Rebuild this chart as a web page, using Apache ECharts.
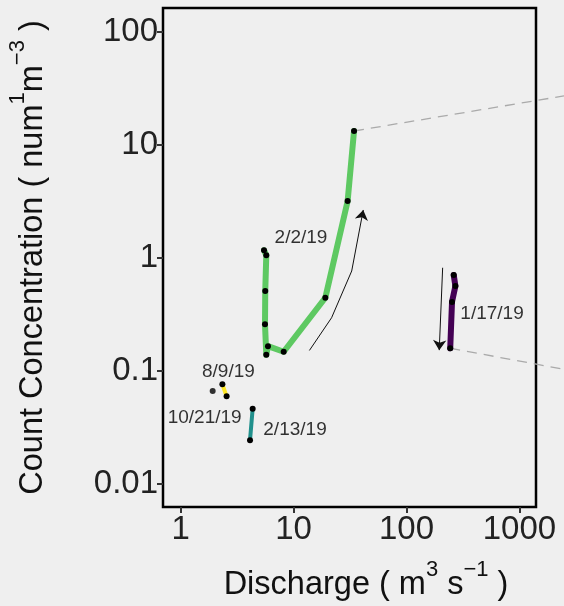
<!DOCTYPE html>
<html>
<head>
<meta charset="utf-8">
<script src="https://cdn.jsdelivr.net/npm/echarts@6/dist/echarts.min.js"></script>
<style>
  html, body { margin: 0; padding: 0; background: #efefef; }
  #main { width: 564px; height: 606px; }
</style>
</head>
<body>
<div id="main"></div>
<script>
// discharge (m3/s), concentration (num/m3)
const event0202 = [[5.47, 1.17], [5.73, 1.06], [5.61, 0.51], [5.58, 0.259], [5.73, 0.139],
                   [5.93, 0.166], [8.17, 0.148], [19.1, 0.445], [30.1, 3.19], [34.3, 13.3]]
const event0117 = [[262, 0.707], [271, 0.565], [253, 0.408], [244, 0.159]]
const event0213 = [[4.34, 0.0464], [4.11, 0.0244]]
const event0809 = [[2.34, 0.0762], [2.55, 0.0597]]
const event1021 = [[1.92, 0.0665]]
// dashed leaders running off to the right
const leaderUp = [[34.3, 13.3], [2483, 27.2]]
const leaderDown = [[244, 0.159], [2483, 0.1035]]
// hysteresis direction arrows
const arrowUp = [[13.8, 0.152], [21.7, 0.296], [32.7, 0.767], [41.4, 2.66]]
const arrowDown = [[209, 0.82], [195, 0.153]]
const xTicks = [1, 10, 100, 1000]
const yTicks = [0.01, 0.1, 1, 10, 100]

const FONT = '"Liberation Sans", Arial, Helvetica, sans-serif'
const X_MIN = 0.697, X_MAX = 1403, Y_MIN = 0.00626, Y_MAX = 163
// the leaders run past the frame, so they get a wider twin grid on the same scale
const X_MAX_WIDE = Math.pow(10, Math.log10(X_MAX) + 28 * (Math.log10(X_MAX) - Math.log10(X_MIN)) / 373)

function eventLine (data, color, width) {
  return {
    type: 'line', data: data, symbol: 'circle', symbolSize: 6, clip: false,
    itemStyle: { color: '#000' },
    lineStyle: { color: color, width: width, cap: 'round', join: 'round' },
    z: 3
  }
}
function leader (data) {
  return {
    type: 'line', data: data, symbol: 'none', clip: false, xAxisIndex: 1, yAxisIndex: 1,
    lineStyle: { color: '#aaaaaa', width: 1.3, type: [10, 7] }, z: 2, silent: true
  }
}
function arrow (pts) {
  const segs = []
  for (let i = 0; i < pts.length - 1; i++) {
    const seg = { coords: [pts[i], pts[i + 1]] }
    if (i === pts.length - 2) seg.symbol = ['none', 'arrow']
    segs.push(seg)
  }
  return {
    type: 'lines', coordinateSystem: 'cartesian2d', data: segs, symbol: 'none',
    symbolSize: 10, lineStyle: { color: '#111', width: 1, opacity: 1 }, z: 4, silent: true
  }
}
function tag (pt, text, offset) {
  return {
    type: 'scatter', data: [pt], symbolSize: 1, itemStyle: { color: 'rgba(0,0,0,0)' }, silent: true,
    label: { show: true, position: 'inside', formatter: text, offset: offset,
             color: '#000', fontSize: 19, fontFamily: FONT },
    z: 5
  }
}

const supStyle = { fontSize: 22, fontFamily: FONT, color: '#111', padding: [0, 0, 30, 0] }
const hiddenAxis = { show: false, splitLine: { show: false } }

const chart = echarts.init(document.getElementById('main'))
chart.setOption({
  animation: false,
  backgroundColor: '#efefef',
  grid: [
    { left: 163, right: 28, top: 8, bottom: 99, outerBoundsMode: 'none', containLabel: false,
      show: true, borderColor: '#000', borderWidth: 2.5, backgroundColor: 'transparent' },
    { left: 163, right: 0, top: 8, bottom: 99, outerBoundsMode: 'none', containLabel: false }
  ],
  xAxis: [{
    type: 'log', logBase: 10, min: X_MIN, max: X_MAX,
    name: 'Discharge ( m{sup|3} s{sup|\u22121} )', nameLocation: 'middle', nameGap: 52,
    nameTextStyle: { color: '#111', fontSize: 32.5, fontFamily: FONT, padding: [0, 0, 0, 33], rich: { sup: supStyle } },
    axisLine: { show: false },
    splitLine: { show: false },
    axisTick: { show: true, length: 6, customValues: xTicks, lineStyle: { color: '#333', width: 2 } },
    axisLabel: { customValues: xTicks, formatter: v => String(v), color: '#222', fontSize: 33, fontFamily: FONT, margin: 6 }
  }, Object.assign({ type: 'log', logBase: 10, min: X_MIN, max: X_MAX_WIDE, gridIndex: 1 }, hiddenAxis)],
  yAxis: [{
    type: 'log', logBase: 10, min: Y_MIN, max: Y_MAX,
    name: 'Count Concentration ( num{sup|1}m{sup|\u22123} )', nameLocation: 'middle', nameRotate: 90, nameGap: 104,
    nameTextStyle: { color: '#111', fontSize: 32.5, fontFamily: FONT, rich: { sup: supStyle } },
    axisLine: { show: false },
    splitLine: { show: false },
    axisTick: { show: true, length: 6, customValues: yTicks, lineStyle: { color: '#333', width: 2 } },
    axisLabel: { customValues: yTicks, formatter: v => String(v), color: '#222', fontSize: 33, fontFamily: FONT, margin: 5 }
  }, Object.assign({ type: 'log', logBase: 10, min: Y_MIN, max: Y_MAX, gridIndex: 1 }, hiddenAxis)],
  series: [
    leader(leaderUp),
    leader(leaderDown),
    eventLine(event0202, '#5ec962', 6),
    eventLine(event0117, '#440154', 6),
    eventLine(event0213, '#21908c', 4),
    eventLine(event0809, '#fde725', 4),
    { type: 'scatter', data: event1021, symbolSize: 6, itemStyle: { color: '#000' }, z: 3 },
    arrow(arrowUp),
    arrow(arrowDown),
    tag(event0202[0], '2/2/19', [37, -13]),
    tag(event0117[2], '1/17/19', [40, 12]),
    tag(event0809[0], '8/9/19', [6, -13]),
    tag(event1021[0], '10/21/19', [-8, 27]),
    tag(event0213[1], '2/13/19', [45, -10])
  ]
})
</script>
</body>
</html>
